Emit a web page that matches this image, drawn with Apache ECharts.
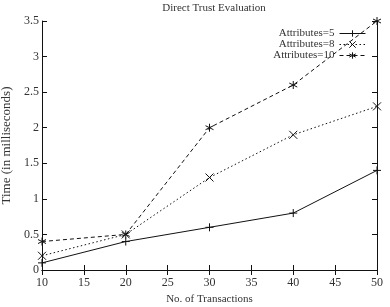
<!DOCTYPE html>
<html><head><meta charset="utf-8">
<script src="https://cdn.jsdelivr.net/npm/echarts@6/dist/echarts.min.js"></script>
<style>html,body{margin:0;padding:0;background:#fff}#c{width:390px;height:307px}</style>
</head><body><div id="c"></div>
<script>
const transactions = [10, 20, 30, 40, 50];
const attr5 = [0.1, 0.4, 0.6, 0.8, 1.4];
const attr8 = [0.2, 0.5, 1.3, 1.9, 2.3];
const attr10 = [0.4, 0.5, 2.0, 2.6, 3.5];
const seriesNames = ['Attributes=5', 'Attributes=8', 'Attributes=10'];

const font = 'Liberation Serif';
const ink = '#111';
const plus = 'path://M5,0L5,10M0,5L10,5';
const cross = 'path://M1,1L9,9M1,9L9,1';
const star = 'path://M5,0L5,10M0,2.5L10,7.5M0,7.5L10,2.5';
function pts(arr){ return transactions.map((x,i)=>[x,arr[i]]); }
function mk(name, data, sym, type){
  return {name, type:'line', data:pts(data), symbol:sym, symbolSize:8,
    lineStyle:{color:ink, width:1, type:type},
    itemStyle:{color:ink, borderColor:ink, borderWidth:1},
    animation:false};
}
const chart = echarts.init(document.getElementById('c'));
const axisCommon = {
  axisLine:{show:true, lineStyle:{color:ink, width:1}},
  axisTick:{show:true, inside:true, length:5, lineStyle:{color:ink}},
  splitLine:{show:false}
};
chart.setOption({
  animation:false,
  title:{text:'Direct Trust Evaluation', left:209, textAlign:'center', top:-2,
    textStyle:{fontFamily:font, fontSize:11, fontWeight:'normal', color:'#333'}},
  grid:{left:42, right:13, top:21, bottom:37, containLabel:false, outerBoundsMode:'none'},
  legend:{orient:'vertical', right:19, top:23, align:'right', itemWidth:26, itemHeight:8, itemGap:0,
    data:seriesNames,
    lineStyle:{width:1},
    itemStyle:{borderWidth:1},
    textStyle:{fontFamily:font, fontSize:11, color:'#333', lineHeight:9, padding:[0,0,0,0]}},
  xAxis:[
    Object.assign({type:'value', min:10, max:50, interval:5, position:'bottom',
      name:'No. of Transactions', nameLocation:'middle', nameGap:22,
      nameTextStyle:{fontFamily:font, fontSize:11, color:'#333'},
      axisLabel:{fontFamily:font, fontSize:12, color:'#333', margin:7}}, axisCommon),
    Object.assign({type:'value', min:10, max:50, interval:5, position:'top',
      axisLabel:{show:false}}, axisCommon)
  ],
  yAxis:[
    Object.assign({type:'value', min:0, max:3.5, interval:0.5, position:'left',
      name:'Time (in milliseconds)', nameLocation:'middle', nameGap:24,
      nameTextStyle:{fontFamily:font, fontSize:13, color:'#333'},
      axisLabel:{fontFamily:font, fontSize:12, color:'#333', margin:3}}, axisCommon),
    Object.assign({type:'value', min:0, max:3.5, interval:0.5, position:'right',
      axisLabel:{show:false}}, axisCommon)
  ],
  series:[
    mk(seriesNames[0], attr5, plus, 'solid'),
    mk(seriesNames[1], attr8, cross, [1.5,2.5]),
    mk(seriesNames[2], attr10, star, [4,3])
  ]
});
</script></body></html>
